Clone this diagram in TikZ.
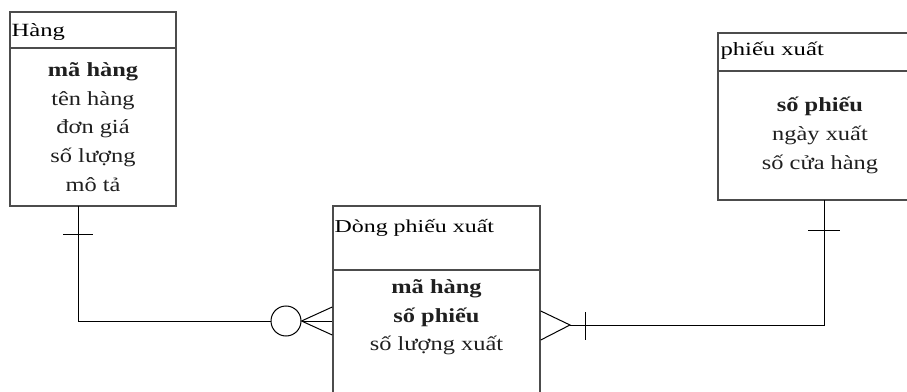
\documentclass[tikz,border=0pt]{standalone}
\usepackage{fontspec}
\setmainfont{Liberation Serif}
\newfontfamily\attrfont[FakeStretch=1.22]{Liberation Serif}
\newfontfamily\titlefont[FakeStretch=1.32]{Liberation Serif}
\usetikzlibrary{positioning,fit}

\begin{document}
\begin{tikzpicture}[x=0.75pt, y=-0.75pt,
        ebox/.style={draw=black!70, line width=1.1pt, inner sep=0pt},
        etitle/.style={inner sep=0pt, anchor=base west, font=\titlefont\fontsize{14}{16}\selectfont},
        attrs/.style={align=center, inner sep=0pt, text=black!88, font=\attrfont\fontsize{15}{21.6}\selectfont},
        conn/.style={line width=0.75pt}]
        \clip (0,0) rectangle (907,392);
        % Hang
        \node[ebox, fit={(10,12) (176,48)}] (hangH) {};
        \node[ebox, fit={(10,48) (176,206)}] (hangB) {};
        \node[etitle] (hangT) at ([shift={(2,25)}]hangH.north west) {Hàng};
        \node[attrs] (hangA) at (hangB.center) {\textbf{mã hàng}\\tên hàng\\đơn giá\\số lượng\\mô tả};
        % Dong phieu xuat
        \node[ebox, fit={(333,206) (540,270)}] (dongH) {};
        \node[ebox, fit={(333,270) (540,430)}] (dongB) {};
        \node[etitle, font=\titlefont\fontsize{13.6}{16}\selectfont] (dongT) at ([shift={(2,27)}]dongH.north west) {Dòng phiếu xuất};
        \node[attrs] (dongA) at ([shift={(0,48)}]dongB.north) {\textbf{mã hàng}\\\textbf{số phiếu}\\số lượng xuất};
        % phieu xuat
        \node[ebox, fit={(718,33) (922,71)}] (phieuH) {};
        \node[ebox, fit={(718,71) (922,200)}] (phieuB) {};
        \node[etitle] (phieuT) at ([shift={(3,23)}]phieuH.north west) {phiếu xuất};
        \node[attrs] (phieuA) at (phieuB.center) {\textbf{số phiếu}\\ngày xuất\\số cửa hàng};

        % Hang -- Dong: one and only one / zero or many
        \coordinate (hangDrop) at (78,206);
        \node[draw, circle, line width=0.75pt, minimum size=22.5pt, inner sep=0pt] (oCirc) at (286,321) {};
        \coordinate (dongL) at (dongB.west |- oCirc);
        \draw[conn] (hangDrop) |- (oCirc.west);
        \draw[conn] ([shift={(-15,29)}]hangDrop) -- ++(30,0);
        \foreach \dy in {-14,0,14}
            \draw[conn] (oCirc.east) -- ([shift={(0,\dy)}]dongL);

        % Dong -- phieu xuat: many / one and only one
        \coordinate (rfApex) at (570,325);
        \coordinate (dongR) at (dongB.east |- rfApex);
        \coordinate (phieuDrop) at (824,200);
        \draw[conn] ([shift={(0,-14)}]dongR) -- (rfApex) -- ([shift={(0,15)}]dongR);
        \draw[conn] (rfApex) -| (phieuDrop);
        \draw[conn] ([shift={(15,-13)}]rfApex) -- ++(0,28);
        \draw[conn] ([shift={(-16,31)}]phieuDrop) -- ++(32,0);
    \end{tikzpicture}
\end{document}
